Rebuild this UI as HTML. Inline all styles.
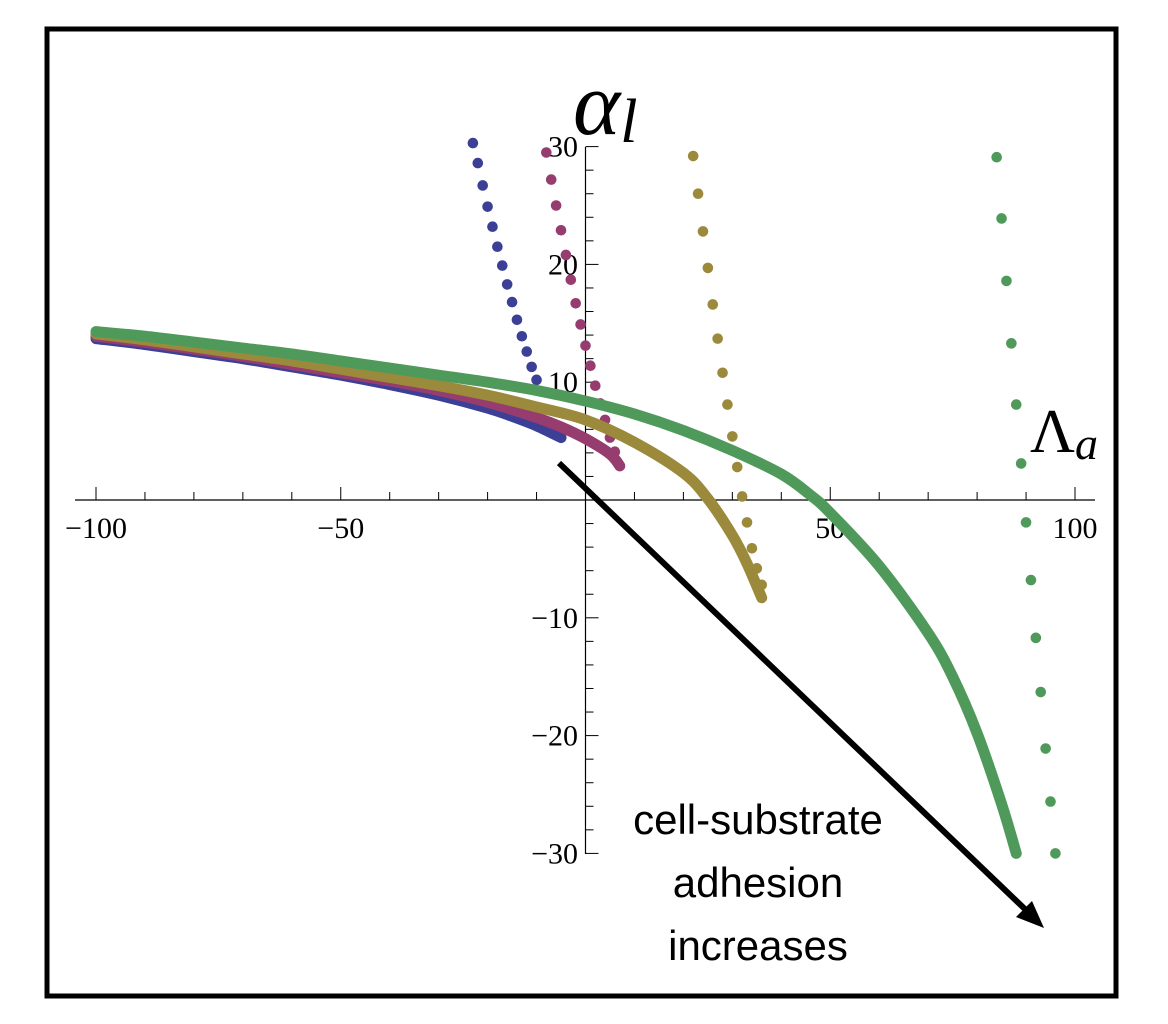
<!DOCTYPE html>
<html><head><meta charset="utf-8"><style>
html,body{margin:0;padding:0;background:#fff;}
svg{display:block;}
</style></head><body>
<svg id="chart" width="1168" height="1024" viewBox="0 0 1168 1024">
<rect x="47" y="29" width="1069" height="967" fill="#fff" stroke="#000" stroke-width="5"/>
<g id="axes"></g>
<g id="series"></g>
<text x="573" y="134" font-family="Liberation Serif, serif" font-style="italic" font-size="90">α<tspan font-size="62" dy="8">l</tspan></text>
<text x="1030" y="452" font-family="Liberation Serif, serif" font-size="62">Λ<tspan font-style="italic" font-size="46" dy="7">a</tspan></text>
<g>
<line x1="559" y1="463" x2="1028" y2="912" stroke="#000" stroke-width="6"/>
<polygon points="1044,928 1016,917 1032,901" fill="#000"/>
</g>
<g font-family="Liberation Sans, sans-serif" font-size="42" text-anchor="middle" fill="#000">
<text x="758" y="834">cell-substrate</text>
<text x="758" y="897">adhesion</text>
<text x="758" y="960">increases</text>
</g>
</svg>
<script>
const xTicks=[-100,-50,50,100];
const yTicks=[-30,-20,-10,10,20,30];
const seriesNames=['blue','magenta','gold','green'];
const seriesColors=['#3c3f96','#963c6e','#9b8a3c','#4f9a5b'];
// dense (lower) branch: x and y values
const blueCurveX=[-100,-90,-80,-70,-60,-50,-40,-30,-20,-15,-10,-5];
const blueCurveY=[13.7,13.2,12.6,12.0,11.3,10.6,9.8,8.9,7.8,7.1,6.3,5.3];
const magCurveX=[-100,-90,-80,-70,-60,-50,-40,-30,-20,-10,-5,0,5,7];
const magCurveY=[13.9,13.4,12.8,12.2,11.5,10.8,10.1,9.3,8.3,7.0,6.2,5.2,3.9,2.9];
const goldCurveX=[-100,-90,-80,-70,-60,-50,-40,-30,-20,-10,0,10,20,25,30,33,36];
const goldCurveY=[14.1,13.6,13.0,12.4,11.8,11.1,10.4,9.7,8.9,7.9,6.8,4.9,2.3,0.1,-3.0,-5.4,-8.3];
const greenCurveX=[-100,-90,-80,-70,-60,-50,-40,-30,-20,-10,0,10,20,30,40,46,50,60,70,75,80,85,88];
const greenCurveY=[14.3,13.9,13.4,12.9,12.4,11.8,11.2,10.6,10.0,9.3,8.4,7.3,5.9,4.2,2.2,0.4,-1.1,-5.6,-11.3,-15.0,-19.8,-25.8,-30];
// steep (sparse) branch
const blueSteepX=[-23,-22,-21,-20,-19,-18,-17,-16,-15,-14,-13,-12,-11,-10];
const blueSteepY=[30.3,28.6,26.7,24.9,23.2,21.5,19.9,18.3,16.8,15.3,13.9,12.6,11.3,10.2];
const magSteepX=[-8,-7,-6,-5,-4,-3,-2,-1,0,1,2,3,4,5,6,7];
const magSteepY=[29.5,27.2,25.0,22.9,20.8,18.7,16.7,14.9,13.1,11.4,9.7,8.2,6.8,5.3,4.1,2.9];
const goldSteepX=[22,23,24,25,26,27,28,29,30,31,32,33,34,35,36];
const goldSteepY=[29.2,26.0,22.8,19.7,16.6,13.7,10.8,8.1,5.4,2.8,0.3,-1.9,-4.1,-5.8,-7.2];
const greenSteepX=[84,85,86,87,88,89,90,91,92,93,94,95,96];
const greenSteepY=[29.1,23.9,18.6,13.3,8.1,3.1,-1.9,-6.8,-11.7,-16.3,-21.1,-25.6,-30];

const NS='http://www.w3.org/2000/svg';
const X0=585.5, XS=4.895, Y0=500, YS=11.78;
function sx(v){return X0+v*XS;}
function sy(v){return Y0-v*YS;}
function mk(tag,attrs,parent){const e=document.createElementNS(NS,tag);for(const k in attrs)e.setAttribute(k,attrs[k]);parent.appendChild(e);return e;}
function smoothPath(p){
 let d='M'+p[0][0]+','+p[0][1];
 for(let i=0;i<p.length-1;i++){
  const a=p[Math.max(0,i-1)],b=p[i],c=p[i+1],e=p[Math.min(p.length-1,i+2)];
  const c1x=b[0]+(c[0]-a[0])/6,c1y=b[1]+(c[1]-a[1])/6,c2x=c[0]-(e[0]-b[0])/6,c2y=c[1]-(e[1]-b[1])/6;
  d+=' C'+c1x+','+c1y+' '+c2x+','+c2y+' '+c[0]+','+c[1];
 }
 return d;
}

const axes=document.getElementById('axes');
const xa=mk('line',{x1:75,y1:Y0,x2:1095,y2:Y0,stroke:'#000','stroke-width':1.2},axes);


const ya=mk('line',{x1:X0,y1:147,x2:X0,y2:854,stroke:'#000','stroke-width':1.2},axes);


for(let v=-100;v<=100;v+=10){if(v===0)continue;const maj=v%50===0;
 const t=mk('line',{x1:sx(v),y1:Y0,x2:sx(v),y2:Y0-(maj?13:8),stroke:'#000','stroke-width':1},axes);
 
 }
for(let v=-30;v<=30;v+=2){if(v===0)continue;const maj=v%10===0;
 const t=mk('line',{x1:X0,y1:sy(v),x2:X0+(maj?13:8),y2:sy(v),stroke:'#000','stroke-width':1},axes);
 
 }
xTicks.forEach(v=>{const t=mk('text',{x:sx(v),y:538,'text-anchor':'middle','font-family':'Liberation Serif, serif','font-size':30},axes);
 t.textContent=(v<0?'\u2212':'')+Math.abs(v);
 
 });
yTicks.forEach(v=>{const t=mk('text',{x:578,y:sy(v)+10,'text-anchor':'end','font-family':'Liberation Serif, serif','font-size':30},axes);
 t.textContent=(v<0?'\u2212':'')+Math.abs(v);
 
 });

const curves=[[blueCurveX,blueCurveY],[magCurveX,magCurveY],[goldCurveX,goldCurveY],[greenCurveX,greenCurveY]];
const steeps=[[blueSteepX,blueSteepY],[magSteepX,magSteepY],[goldSteepX,goldSteepY],[greenSteepX,greenSteepY]];
const sg=document.getElementById('series');
[0,1,2,3].forEach(i=>{
 const [cx,cy]=curves[i];
 const pts=cx.map((x,j)=>[sx(x),sy(cy[j])]);
 const pl=mk('path',{d:smoothPath(pts),fill:'none',stroke:seriesColors[i],'stroke-width':11,'stroke-linecap':'round','stroke-linejoin':'round'},sg);
 
 
 const [px,py]=steeps[i];
 px.forEach((x,j)=>{const c=mk('circle',{cx:sx(x),cy:sy(py[j]),r:5.3,fill:seriesColors[i]},sg);
  
  });
});
</script>
</body></html>
